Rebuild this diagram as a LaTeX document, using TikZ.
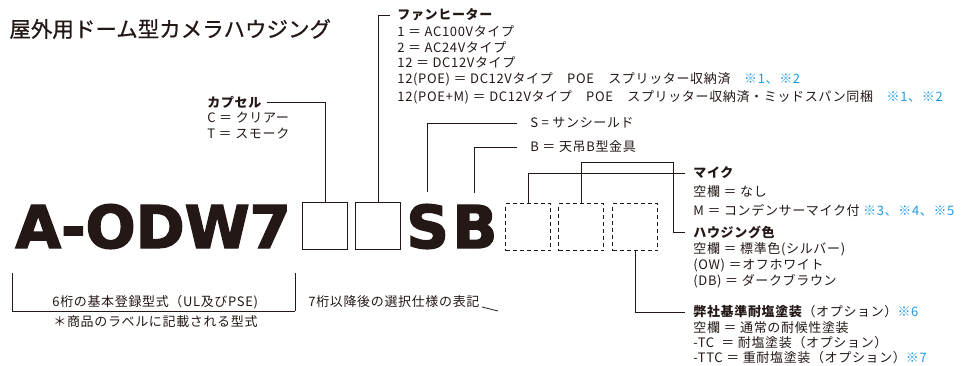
\documentclass[tikz,border=0pt]{standalone}
\usepackage{fontspec}
\setmainfont{Noto Sans CJK JP}[LetterSpace=5]
\newfontfamily\titlefont{Noto Sans CJK JP}[FakeBold=0.7]
\newfontfamily\heavyfont{DejaVu Sans Bold}[FakeBold=2.5]
\usetikzlibrary{positioning}
\definecolor{ink}{HTML}{231815}
\definecolor{notecol}{HTML}{1E9BE0}
\newcommand{\note}[1]{{\color{notecol}#1}}

\begin{document}
\begin{tikzpicture}[x=1bp, y=-1bp, line width=0.8bp, color=ink,
	txt/.style={anchor=west, inner sep=0pt, font=\fontsize{13bp}{15bp}\selectfont},
	head/.style={txt, font=\fontsize{13bp}{15bp}\selectfont\bfseries},
	big/.style={anchor=base west, inner sep=0pt, font=\heavyfont\fontsize{59bp}{59bp}\selectfont},
	codebox/.style={draw, minimum width=45bp, minimum height=47bp, inner sep=0pt},
	optbox/.style={codebox, dashed, dash pattern=on 4bp off 3bp}]
			%%%%% START %%%%%
			\useasboundingbox (0, 0) rectangle (969, 365);
			
			\node[txt, font=\titlefont\fontsize{21.5bp}{24bp}\selectfont] (title) at (9, 29) {屋外用ドーム型カメラハウジング};
			
			% model number
			\node[big] (model) at (15, 248) {A-ODW7};
			\node[codebox] (capbox) at (325, 226) {};
			\node[codebox] (fanbox) at (378, 226) {};
			\node[big] (sunL) at (406, 248) {S};
			\node[big] (hangL) at (452, 248) {B};
			\node[optbox] (micbox) at (528, 227) {};
			\node[optbox] (colbox) at (581, 227) {};
			\node[optbox] (saltbox) at (635, 227) {};
			
			% capsule
			\node[head] (capH) at (207, 102) {カプセル};
			\node[txt] (cap1) at (207, 118) {C ＝ クリアー};
			\node[txt] (cap2) at (207, 134) {T ＝ スモーク};
			\draw (capbox.north) |- ([xshift=5bp]capH.east);
			
			% fan heater
			\node[head] (fanH) at (397, 15) {ファンヒーター};
			\node[txt] (fan1) at (397, 31) {1 ＝ AC100Vタイプ};
			\node[txt] (fan2) at (397, 47) {2 ＝ AC24Vタイプ};
			\node[txt] (fan3) at (397, 62) {12 ＝ DC12Vタイプ};
			\node[txt] (fan4) at (397, 79) {12(POE) ＝ DC12Vタイプ　POE　スプリッター収納済　\note{※1、※2}};
			\node[txt] (fan5) at (397, 97) {12(POE+M) ＝ DC12Vタイプ　POE　スプリッター収納済・ミッドスパン同梱　\note{※1、※2}};
			\draw (fanbox.north) |- ([xshift=-7bp]fanH.west);
			
			% sun shield / bracket
			\node[txt] (sunT) at (530, 123) {S = サンシールド};
			\node[txt] (hangT) at (530, 147) {B ＝ 天吊B型金具};
			\draw ([yshift=12bp]sunL.north) |- ([xshift=-13bp]sunT.west);
			\draw ([yshift=12bp]hangL.north) |- ([xshift=-13bp]hangT.west);
			
			% microphone
			\node[head] (micH) at (693, 173) {マイク};
			\node[txt] (mic1) at (693, 192) {空欄 ＝ なし};
			\node[txt] (mic2) at (693, 210) {M ＝ コンデンサーマイク付 \note{※3、※4、※5}};
			\draw (micbox.north) |- ([xshift=-8bp]micH.west);
			
			% housing colour
			\node[head] (colH) at (693, 232) {ハウジング色};
			\node[txt] (col1) at (693, 249) {空欄 ＝ 標準色(シルバー)};
			\node[txt] (col2) at (693, 265) {(OW) ＝オフホワイト};
			\node[txt] (col3) at (693, 281) {(DB) ＝ ダークブラウン};
			\draw (colbox.north) -- ++(0, -41) -| (673, 232) -- ([xshift=-8bp]colH.west);
			
			% salt coating
			\node[txt] (saltH) at (693, 312) {\textbf{弊社基準耐塩塗装}（オプション）\note{※6}};
			\node[txt] (salt1) at (693, 328) {空欄 ＝ 通常の耐候性塗装};
			\node[txt] (salt2) at (693, 343) {-TC\ \ ＝ 耐塩塗装（オプション）};
			\node[txt] (salt3) at (693, 358) {-TTC\ ＝ 重耐塩塗装（オプション）\note{※7}};
			\draw (saltbox.south) |- ([xshift=-8bp]saltH.west);
			
			% base / option bracket
			\draw (12, 273) -- (12, 311) -- (295, 311);
			\draw (295, 273) -- (295, 311);
			\draw (482, 307) -- (498, 311);
			\node[txt] (baseT) at (52, 302) {6桁の基本登録型式（UL及びPSE)};
			\node[txt] (optT) at (308, 302) {7桁以降後の選択仕様の表記};
			\node[txt] (labelT) at (53, 322) {＊商品のラベルに記載される型式};
			
			%%%%% END %%%%%
\end{tikzpicture}
\end{document}
